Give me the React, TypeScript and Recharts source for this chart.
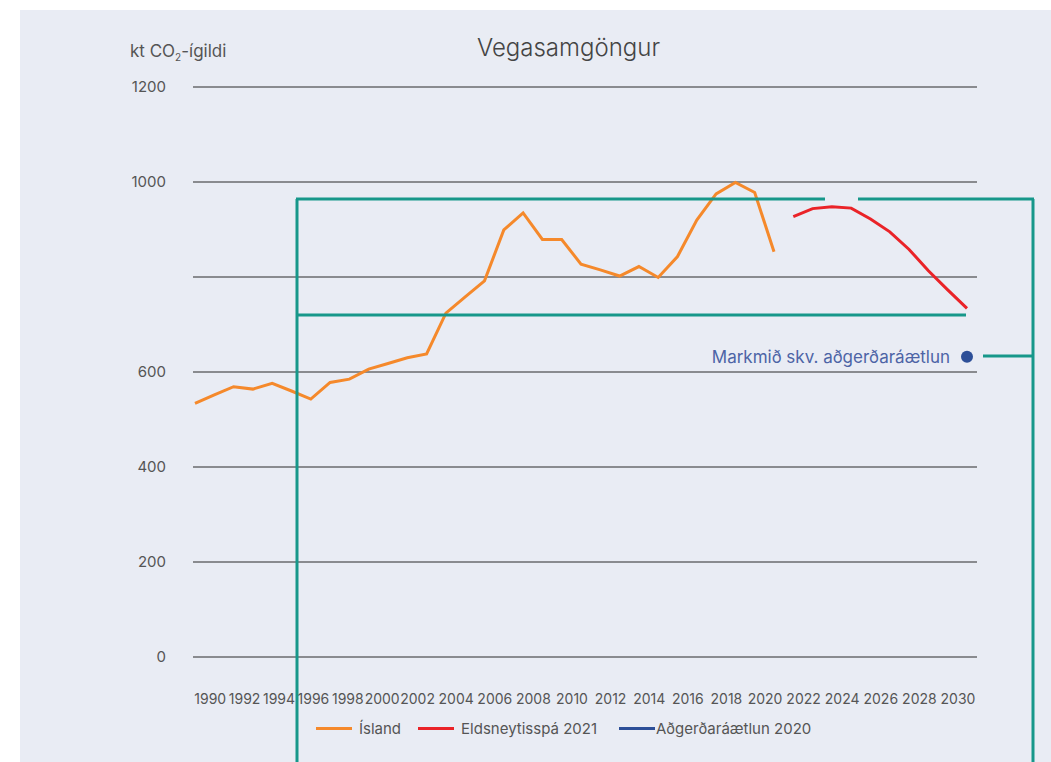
import React from "react";
import { LineChart, Line, XAxis, YAxis, CartesianGrid, LabelList } from "recharts";

// Ísland, actual emissions 1990-2020 (kt CO2-ígildi)
const islandYears = [
  1990, 1991, 1992, 1993, 1994, 1995, 1996, 1997, 1998, 1999, 2000,
  2001, 2002, 2003, 2004, 2005, 2006, 2007, 2008, 2009, 2010,
  2011, 2012, 2013, 2014, 2015, 2016, 2017, 2018, 2019, 2020,
];
const islandValues = [
  534, 552, 569, 564, 576, 560, 543, 578, 585, 606, 618,
  630, 638, 724, 758, 792, 899, 935, 879, 879, 827,
  815, 802, 822, 799, 843, 920, 975, 999, 978, 853,
];

// Eldsneytisspá 2021
const forecastYears = [2021, 2022, 2023, 2024, 2025, 2026, 2027, 2028, 2029, 2030];
const forecastValues = [927, 944, 948, 945, 922, 895, 858, 813, 773, 734];

// Aðgerðaráætlun 2020 target
const targetYears = [2030];
const targetValues = [632];
const targetLabel = "Markmið skv. aðgerðaráætlun";

const xTicks = [
  1990, 1992, 1994, 1996, 1998, 2000, 2002, 2004, 2006, 2008, 2010,
  2012, 2014, 2016, 2018, 2020, 2022, 2024, 2026, 2028, 2030,
];
const yTicks = [0, 200, 400, 600, 800, 1000, 1200];
const yHiddenLabels = [800];

const series = [
  { key: "island", name: "Ísland", color: "#f5892b" },
  { key: "forecast", name: "Eldsneytisspá 2021", color: "#ea2328" },
  { key: "target", name: "Aðgerðaráætlun 2020", color: "#2d4f98" },
];

const data = (() => {
  const rows: Record<number, any> = {};
  const put = (ys: number[], vs: number[], k: string) =>
    ys.forEach((y, i) => {
      rows[y] = rows[y] || { year: y };
      rows[y][k] = vs[i];
    });
  put(islandYears, islandValues, "island");
  put(forecastYears, forecastValues, "forecast");
  put(targetYears, targetValues, "target");
  return Object.values(rows).sort((a: any, b: any) => a.year - b.year);
})();

const FONT = "Inter, 'Noto Sans', sans-serif";
const PLOT_LEFT = 193;
const TEAL = "#17978a";

function XTick(props: any) {
  const { x, y, payload, index } = props;
  const w = 34.4;
  // labels pushed right so they don't run past the plot's left edge
  const tx = Math.max(x - 9, PLOT_LEFT + w / 2 + index * w);
  return (
    <text x={tx} y={y + 39} textAnchor="middle" fontSize={14} fill="#555" fontFamily={FONT}>
      {payload.value}
    </text>
  );
}

function TargetLabel(props: any) {
  const { x, y, value } = props;
  if (value == null) return null;
  return (
    <text x={x - 17} y={y + 6} textAnchor="end" fontSize={17} fill="#4d64a6" fontFamily={FONT}>
      {targetLabel}
    </text>
  );
}

export default function App() {
  return (
    <div style={{ position: "absolute", left: 0, top: 0, width: 1051, height: 762, background: "#fff", overflow: "hidden", fontFamily: FONT }}>
      <div style={{ position: "absolute", left: 20, top: 10, width: 1031, height: 752, background: "#e9ecf4" }} />
      <div style={{ position: "absolute", left: 0, top: 33, width: 1137, textAlign: "center", fontSize: 24, fontWeight: 300, color: "#444" }}>
        Vegasamgöngur
      </div>
      <div style={{ position: "absolute", left: 130, top: 41, fontSize: 17, color: "#555" }}>
        kt CO<sub style={{ fontSize: 10, verticalAlign: "-4px" }}>2</sub>-ígildi
      </div>
      <LineChart
        width={1051}
        height={762}
        data={data}
        margin={{ top: 87, right: 74, bottom: 65, left: 0 }}
        style={{ position: "absolute", left: 0, top: 0 }}
      >
        <CartesianGrid horizontal vertical={false} stroke="#2a2a2a" strokeWidth={1} />
        <XAxis
          dataKey="year"
          type="number"
          domain={[1990, 2030]}
          ticks={xTicks}
          interval={0}
          padding={{ left: 2, right: 10 }}
          axisLine={false}
          tickLine={false}
          height={40}
          tick={<XTick />}
        />
        <YAxis
          domain={[0, 1200]}
          ticks={yTicks}
          interval={0}
          width={PLOT_LEFT}
          axisLine={false}
          tickLine={false}
          tickSize={0}
          tickMargin={27}
          tickFormatter={(v: number) => (yHiddenLabels.includes(v) ? "" : String(v))}
          tick={{ fontSize: 15, fill: "#555", fontFamily: FONT }}
        />
        <Line dataKey="island" name="Ísland" stroke={series[0].color} strokeWidth={3} dot={false} isAnimationActive={false} connectNulls={false} />
        <Line dataKey="forecast" name="Eldsneytisspá 2021" stroke={series[1].color} strokeWidth={3} dot={false} isAnimationActive={false} connectNulls={false} />
        <Line
          dataKey="target"
          name="Aðgerðaráætlun 2020"
          stroke={series[2].color}
          strokeWidth={3}
          dot={{ r: 6, fill: series[2].color, stroke: "none" }}
          isAnimationActive={false}
        >
          <LabelList dataKey="target" content={<TargetLabel />} />
        </Line>
      </LineChart>
      {/* legend */}
      <div style={{ position: "absolute", left: 316, top: 719, display: "flex", alignItems: "center", fontSize: 15, color: "#555" }}>
        {series.map((s, i) => (
          <div key={s.key} style={{ display: "flex", alignItems: "center", marginRight: i === 1 ? 22 : 17 }}>
            <div style={{ width: 36, height: 3, background: s.color }} />
            <span style={{ marginLeft: i === 2 ? 1 : 7 }}>{s.name}</span>
          </div>
        ))}
      </div>
      {/* teal annotation frame over the picture */}
      <svg width={1051} height={762} style={{ position: "absolute", left: 0, top: 0, pointerEvents: "none" }}>
        <g stroke={TEAL} strokeWidth={3} fill="none">
          <line x1={297} y1={199} x2={297} y2={762} />
          <line x1={296} y1={199} x2={825} y2={199} />
          <line x1={858} y1={199} x2={1034} y2={199} />
          <line x1={1033} y1={199} x2={1033} y2={762} />
          <line x1={296} y1={315} x2={966} y2={315} />
          <line x1={983} y1={356} x2={1033} y2={356} />
        </g>
      </svg>
    </div>
  );
}
